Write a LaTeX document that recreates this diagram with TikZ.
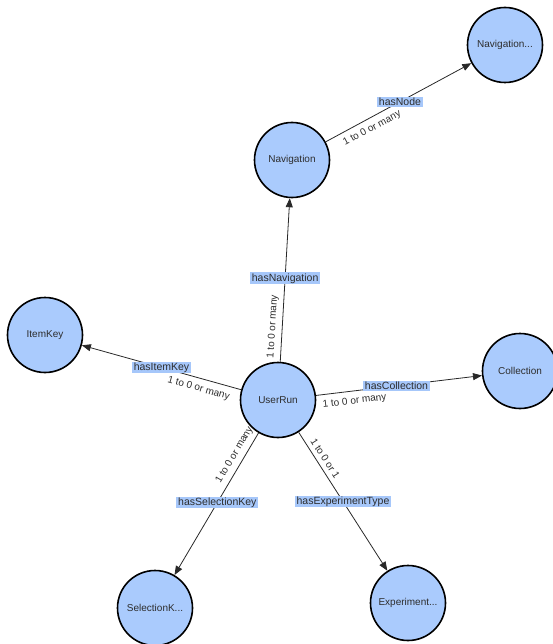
\documentclass[tikz,border=0pt]{standalone}
\usepackage{fontspec}
\setmainfont{Liberation Sans}
\usetikzlibrary{arrows.meta}
\definecolor{nodeblue}{RGB}{170,203,253}
\definecolor{relblue}{RGB}{166,199,250}
\definecolor{edgegray}{RGB}{40,40,40}
\definecolor{textgray}{RGB}{45,45,45}
\begin{document}
\begin{tikzpicture}[x=1pt, y=-1pt,
    entity/.style={circle, draw, line width=1.6pt, fill=nodeblue, minimum size=75pt,
        inner sep=0pt, font=\fontsize{10}{12}\selectfont, text=textgray},
    rel/.style={draw=edgegray, line width=0.8pt, -{Triangle[length=9pt, width=7pt]}},
    relname/.style={fill=relblue, inner xsep=2pt, inner ysep=1pt,
        font=\fontsize{10.5}{12}\selectfont, text=textgray},
    card/.style={sloped, inner sep=1.5pt, font=\fontsize{10}{12}\selectfont, text=textgray}]
    \useasboundingbox (0,0) rectangle (553,644);

    % Entities
    \node[entity] (userrun) at (278,400) {UserRun};
    \node[entity] (navigation) at (292,160) {Navigation};
    \node[entity] (navnode) at (505,45) {Navigation...};
    \node[entity] (itemkey) at (45,335) {ItemKey};
    \node[entity] (collection) at (520,371) {Collection};
    \node[entity] (selectionkey) at (155,608) {SelectionK...};
    \node[entity] (experiment) at (408,603) {Experiment...};

    % Relations with cardinalities
    \draw[rel] (userrun) -- node[relname, pos=0.51] {hasNavigation}
        node[card, pos=0.21, above=3pt] {1 to 0 or many} (navigation);
    \draw[rel] (navigation) -- node[relname, pos=0.51] {hasNode}
        node[card, pos=0.285, below=4pt] {1 to 0 or many} (navnode);
    \draw[rel] (userrun) -- node[relname, pos=0.5] {hasItemKey}
        node[card, pos=0.25, below=4pt] {1 to 0 or many} (itemkey);
    \draw[rel] (userrun) -- node[relname, pos=0.485] {hasCollection}
        node[card, pos=0.225, below=4pt] {1 to 0 or many} (collection);
    \draw[rel] (userrun) -- node[relname, pos=0.49] {hasSelectionKey}
        node[card, pos=0.19, above=3pt] {1 to 0 or many} (selectionkey);
    \draw[rel] (userrun) -- node[relname, pos=0.5] {hasExperimentType}
        node[card, pos=0.22, above=3pt] {1 to 0 or 1} (experiment);
\end{tikzpicture}
\end{document}
